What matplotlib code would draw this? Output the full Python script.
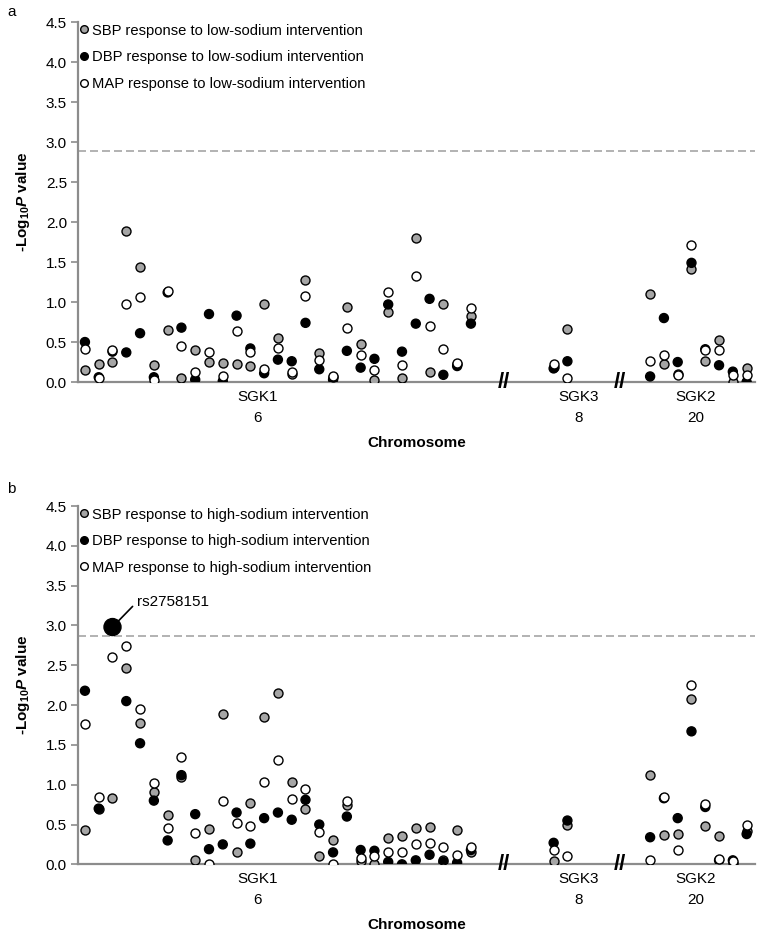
import numpy as np
import matplotlib
matplotlib.use('Agg')
import matplotlib.pyplot as plt
from matplotlib.lines import Line2D

plt.rcParams['font.family'] = ['Liberation Sans', 'DejaVu Sans']
plt.rcParams['mathtext.fontset'] = 'custom'
plt.rcParams['mathtext.rm'] = 'Liberation Sans:bold'
plt.rcParams['mathtext.it'] = 'Liberation Sans:bold:italic'
plt.rcParams['mathtext.bf'] = 'Liberation Sans:bold'

# SNP positions along the x axis (SGK1 | SGK3 | SGK2)
snp_pos = list(range(1, 30)) + [35, 36] + list(range(42, 50))

gene_names = ['SGK1', 'SGK3', 'SGK2']
gene_chrom = ['6', '8', '20']
gene_center = [13.5, 36.8, 45.3]
break_pos = [31.4, 39.8]

# panel a: low-sodium intervention (-log10 P)
sbp_low = [0.15, 0.22, 0.25, 1.89, 1.44, 0.21, 0.65, 0.05, 0.40, 0.25,
           0.24, 0.23, 0.20, 0.98, 0.55, 0.10, 1.28, 0.36, 0.06, 0.94,
           0.48, 0.03, 0.88, 0.05, 1.80, 0.13, 0.97, 0.22, 0.83,
           0.19, 0.66,
           1.10, 0.23, 0.10, 1.41, 0.26, 0.53, 0.00, 0.17]
dbp_low = [0.50, 0.06, 0.38, 0.37, 0.61, 0.06, 1.12, 0.68, 0.03, 0.85,
           0.01, 0.83, 0.42, 0.11, 0.28, 0.26, 0.74, 0.16, 0.03, 0.39,
           0.18, 0.29, 0.97, 0.38, 0.73, 1.04, 0.09, 0.20, 0.73,
           0.17, 0.26,
           0.07, 0.80, 0.25, 1.49, 0.41, 0.21, 0.13, 0.00]
map_low = [0.41, 0.05, 0.40, 0.98, 1.06, 0.03, 1.14, 0.45, 0.12, 0.38,
           0.08, 0.64, 0.37, 0.16, 0.43, 0.13, 1.08, 0.28, 0.08, 0.68,
           0.34, 0.15, 1.13, 0.21, 1.32, 0.70, 0.41, 0.24, 0.92,
           0.22, 0.05,
           0.26, 0.34, 0.09, 1.71, 0.40, 0.40, 0.09, 0.09]

# panel b: high-sodium intervention (-log10 P)
sbp_high = [0.43, 0.70, 0.83, 2.46, 1.78, 0.91, 0.62, 1.10, 0.05, 0.44,
            1.89, 0.15, 0.77, 1.85, 2.15, 1.03, 0.70, 0.10, 0.30, 0.74,
            0.04, 0.00, 0.33, 0.35, 0.45, 0.47, 0.05, 0.43, 0.15,
            0.04, 0.50,
            1.12, 0.37, 0.38, 2.07, 0.48, 0.35, 0.02, 0.42]
dbp_high = [2.18, 0.70, 2.98, 2.05, 1.52, 0.80, 0.30, 1.12, 0.63, 0.19,
            0.25, 0.65, 0.26, 0.58, 0.65, 0.56, 0.81, 0.50, 0.15, 0.60,
            0.18, 0.17, 0.03, 0.00, 0.05, 0.12, 0.03, 0.02, 0.18,
            0.27, 0.55,
            0.34, 0.83, 0.58, 1.67, 0.72, 0.05, 0.05, 0.38]
map_high = [1.76, 0.85, 2.60, 2.74, 1.95, 1.02, 0.45, 1.35, 0.39, 0.00,
            0.80, 0.52, 0.48, 1.04, 1.31, 0.82, 0.94, 0.41, 0.00, 0.79,
            0.08, 0.10, 0.15, 0.15, 0.25, 0.27, 0.22, 0.12, 0.22,
            0.18, 0.10,
            0.05, 0.85, 0.18, 2.25, 0.76, 0.07, 0.04, 0.49]

top_snp = 'rs2758151'
top_idx = 2
thr_a = 2.89
thr_b = 2.87

GRAY = '#a5a5a5'
AXC = '#8c8c8c'

fig = plt.figure(figsize=(7.78, 9.35), dpi=100)
ax_a = fig.add_axes([0.1003, 0.5914, 0.8700, 0.3850])
ax_b = fig.add_axes([0.1003, 0.0756, 0.8700, 0.3832])


def draw_panel(ax, sbp, dbp, mapv, thr, cond, big=None):
    s_d = [42] * len(dbp)
    if big is not None:
        s_d[big] = 150
    ax.scatter(snp_pos, sbp, s=42, c=GRAY, edgecolors='black', linewidths=1.0, zorder=3)
    ax.scatter(snp_pos, dbp, s=s_d, c='black', edgecolors='black', linewidths=1.0, zorder=4)
    ax.scatter(snp_pos, mapv, s=42, c='white', edgecolors='black', linewidths=1.0, zorder=5)
    ax.axhline(thr, color='#a6a6a6', lw=1.2, ls=(0, (4.8, 2.4)), zorder=1)

    ax.set_xlim(0.5, 49.6)
    ax.set_ylim(0, 4.5)
    ax.set_yticks(np.arange(0, 4.51, 0.5))
    ax.set_yticklabels(['%.1f' % v for v in np.arange(0, 4.51, 0.5)], fontsize=11)
    ax.set_xticks([])
    for sp in ['top', 'right']:
        ax.spines[sp].set_visible(False)
    ax.spines['left'].set_color(AXC)
    ax.spines['bottom'].set_color(AXC)
    ax.spines['left'].set_linewidth(1.6)
    ax.spines['bottom'].set_linewidth(1.6)
    ax.tick_params(axis='y', direction='out', length=5, width=1.2, color=AXC, pad=3)

    for name, chrom, xc in zip(gene_names, gene_chrom, gene_center):
        ax.annotate(name, xy=(xc, 0), xycoords=('data', 'axes fraction'),
                    xytext=(0, -10.8), textcoords='offset points',
                    ha='center', va='center', fontsize=11)
        ax.annotate(chrom, xy=(xc, 0), xycoords=('data', 'axes fraction'),
                    xytext=(0, -26), textcoords='offset points',
                    ha='center', va='center', fontsize=11)
    for bx in break_pos:
        ax.text(bx, 0, '//', ha='center', va='center', fontsize=16,
                fontweight='bold', zorder=6)

    ax.set_xlabel('Chromosome', fontsize=11, fontweight='bold', labelpad=39)
    ax.set_ylabel(r'-Log$_{\mathrm{10}}$$\mathit{P}$ value', fontsize=11,
                  fontweight='bold', labelpad=10)

    handles = [
        Line2D([], [], ls='none', marker='o', ms=5.5, mfc=GRAY, mec='black', mew=1.0),
        Line2D([], [], ls='none', marker='o', ms=5.5, mfc='black', mec='black', mew=1.0),
        Line2D([], [], ls='none', marker='o', ms=5.5, mfc='white', mec='black', mew=1.0),
    ]
    labels = ['SBP response to %s intervention' % cond,
              'DBP response to %s intervention' % cond,
              'MAP response to %s intervention' % cond]
    ax.legend(handles, labels, loc='upper left', bbox_to_anchor=(-0.005, 1.012),
              frameon=False, fontsize=10.6, handlelength=0.5, handletextpad=0.3,
              labelspacing=0.85, borderaxespad=0.0)


draw_panel(ax_a, sbp_low, dbp_low, map_low, thr_a, 'low-sodium')
draw_panel(ax_b, sbp_high, dbp_high, map_high, thr_b, 'high-sodium', big=top_idx)

ax_b.annotate(top_snp, xy=(snp_pos[top_idx], dbp_high[top_idx]),
              xytext=(4.8, 3.30), fontsize=11, ha='left', va='center',
              arrowprops=dict(arrowstyle='-', color='black', lw=1.2,
                              shrinkA=2, shrinkB=6, relpos=(0, 0.5)))

fig.text(0.009, 0.995, 'a', fontsize=11, va='top', ha='left')
fig.text(0.009, 0.484, 'b', fontsize=11, va='top', ha='left')

fig.savefig('out.png', dpi=100)
